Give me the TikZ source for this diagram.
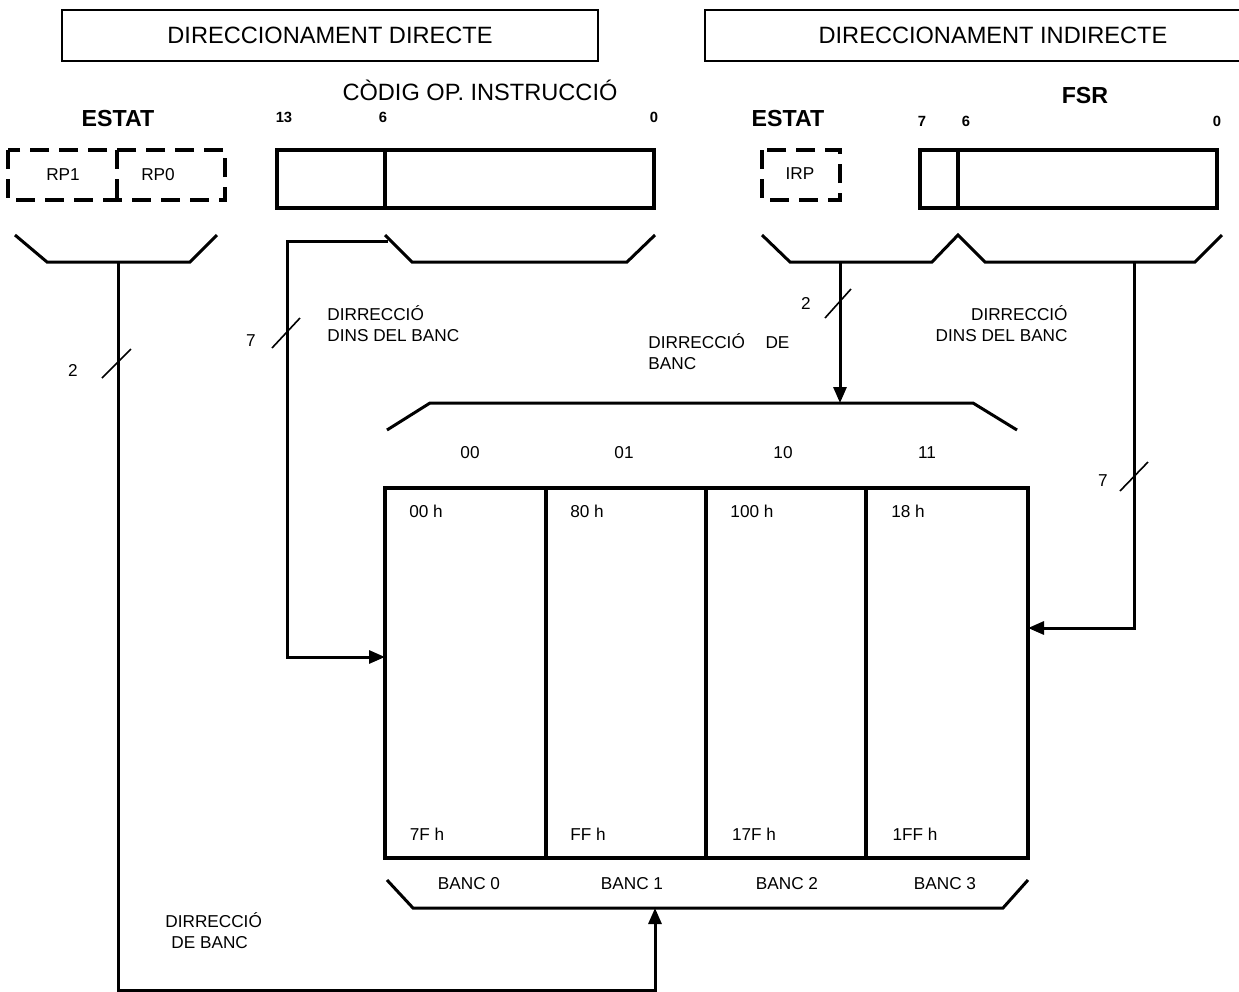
\documentclass[tikz,border=0pt]{standalone}
\usepackage{fontspec}
\setmainfont{Liberation Sans}
\usetikzlibrary{arrows.meta}
\begin{document}
\begin{tikzpicture}[x=0.5pt,y=-0.5pt,
  hdr/.style={draw,line width=1pt,inner sep=0pt,font=\fontsize{11.8}{13}\selectfont},
  ttl/.style={inner sep=0pt,font=\fontsize{11.8}{13}\selectfont},
  bttl/.style={inner sep=0pt,font=\bfseries\fontsize{11.6}{13}\selectfont},
  bitn/.style={inner sep=0pt,font=\bfseries\fontsize{7.4}{9}\selectfont},
  sml/.style={inner sep=0pt,font=\fontsize{8.6}{10.5}\selectfont},
  reg/.style={line width=1.6pt},
  dsh/.style={line width=1.6pt,dash pattern=on 9.5pt off 5pt},
  brk/.style={line width=1.5pt,line join=miter},
  conn/.style={line width=1.5pt},
  arr/.style={conn,-{Triangle[length=8pt,width=6.5pt]}},
  slash/.style={line width=0.8pt}
]
\useasboundingbox (0,0) rectangle (1239,992);
\clip (0,0) rectangle (1239,992);

% headers
\node[hdr,minimum width=268pt,minimum height=25.5pt] (hdir) at (330,35.5) {DIRECCIONAMENT DIRECTE};
\node[hdr,minimum width=288pt,minimum height=25.5pt] (hind) at (993,35.5) {DIRECCIONAMENT INDIRECTE};

\node[ttl] (codi) at (480,90) {CÒDIG OP. INSTRUCCIÓ};
\node[bttl] (estL) at (118,119) {ESTAT};
\node[bttl] (estR) at (788,119) {ESTAT};
\node[bttl] (fsr) at (1085,96) {FSR};

\node[bitn] (b13) at (284,117) {13};
\node[bitn] (b6a) at (383,117) {6};
\node[bitn] (b0a) at (654,117) {0};
\node[bitn] (b7) at (922,121) {7};
\node[bitn] (b6b) at (966,121) {6};
\node[bitn] (b0b) at (1217,121) {0};

% status registers (dashed)
\draw[dsh] (8,150) rectangle (225,200);
\draw[dsh] (117,150) -- (117,200);
\node[sml] (rp1) at (63,175) {RP1};
\node[sml] (rp0) at (158,175) {RP0};
\draw[dsh] (762,150) rectangle (840,200);
\node[sml] (irp) at (800,174) {IRP};

% instruction and FSR registers
\draw[reg] (277,150) rectangle (654,208);
\draw[reg] (385,150) -- (385,208);
\draw[reg] (920,150) rectangle (1217,208);
\draw[reg] (958,150) -- (958,208);

% brackets
\draw[brk] (15,235) -- (47,262) -- (190,262) -- (217,235);
\draw[brk] (385,235) -- (412,262) -- (627,262) -- (655,235);
\draw[brk] (762,235) -- (790,262) -- (932,262) -- (958,235) -- (985,262) -- (1195,262) -- (1222,235);
\draw[brk] (387,430) -- (430,403) -- (973,403) -- (1017,430);
\draw[brk] (387,880) -- (413,908) -- (1003,908) -- (1028,880);

\coordinate (eb) at (118,262);
\coordinate (ib) at (388,241);
\coordinate (ic) at (287,241);
\coordinate (rb) at (840,262);
\coordinate (fb) at (1134,262);
\coordinate (tb) at (840,403);
\coordinate (bb) at (655,908);
\coordinate (bw) at (385,657);
\coordinate (be) at (1028,628);
\coordinate (lc) at (118,990);

% bank memory
\draw[reg] (385,488) rectangle (1028,858);
\draw[reg] (546,488) -- (546,858);
\draw[reg] (706,488) -- (706,858);
\draw[reg] (866,488) -- (866,858);

\node[sml] (c00) at (470,453) {00};
\node[sml] (c01) at (624,453) {01};
\node[sml] (c10) at (783,453) {10};
\node[sml] (c11) at (927,453) {11};

\node[sml] (a0) at (426,511) {00 h};
\node[sml] (a1) at (587,511) {80 h};
\node[sml] (a2) at (752,511) {100 h};
\node[sml] (a3) at (908,511) {18 h};
\node[sml] (e0) at (427,834) {7F h};
\node[sml] (e1) at (588,834) {FF h};
\node[sml] (e2) at (754,834) {17F h};
\node[sml] (e3) at (915,834) {1FF h};

\node[sml] (bk0) at (469,884) {BANC 0};
\node[sml] (bk1) at (632,884) {BANC 1};
\node[sml] (bk2) at (787,884) {BANC 2};
\node[sml] (bk3) at (945,884) {BANC 3};

% connectors
\draw[arr] (eb) -- (lc) -| (bb);
\draw[arr] (ib) -- (ic) |- (bw);
\draw[arr] (rb) -- (tb);
\draw[arr] (fb) |- (be);

% bus width slashes
\draw[slash] (102,378) -- (131,349);
\node[sml] (n2a) at (73,370) {2};
\draw[slash] (272,348) -- (300,318);
\node[sml] (n7a) at (251,341) {7};
\draw[slash] (825,318) -- (851,289);
\node[sml] (n2b) at (806,303) {2};
\draw[slash] (1120,491) -- (1148,462);
\node[sml] (n7b) at (1103,481) {7};

% labels
\node[sml,align=left,anchor=north west] (l1) at (327,305) {DIRRECCIÓ\\DINS DEL BANC};
\node[sml,align=right,anchor=north east] (l2) at (1068,305) {DIRRECCIÓ\\DINS DEL BANC};
\node[sml,align=left,anchor=north west] (l3) at (648,333) {DIRRECCIÓ\hspace{1.2em}DE\\BANC};
\node[sml,align=left,anchor=north west] (l4) at (165,912) {DIRRECCIÓ\\\hspace{3pt}DE BANC};
\end{tikzpicture}
\end{document}
